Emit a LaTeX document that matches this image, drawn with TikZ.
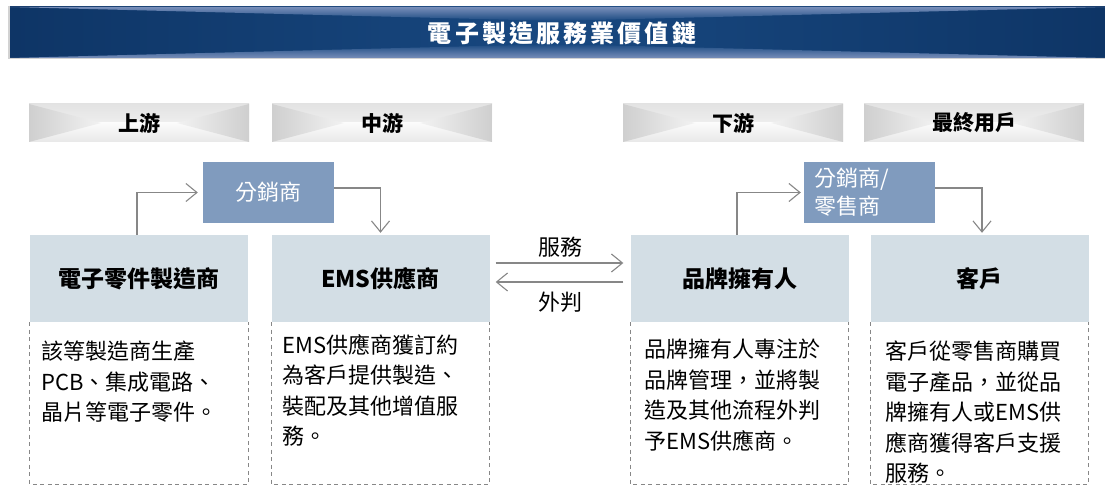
\documentclass[tikz,border=0pt]{standalone}
\usepackage{fontspec}
\setmainfont{Noto Sans CJK TC}
\usetikzlibrary{arrows.meta,positioning}

\definecolor{navy}{RGB}{14,53,102}
\definecolor{navymid}{RGB}{24,72,128}
\definecolor{navylight}{RGB}{120,142,185}
\definecolor{boxblue}{RGB}{128,155,190}
\definecolor{headblue}{RGB}{211,222,229}
\definecolor{linegray}{RGB}{135,135,135}

\begin{document}
\begin{tikzpicture}[
    x			= 1pt,
    y			= -1pt,
    >={Straight Barb[length=11pt, width=18pt]},
    arr/.style		= {->, draw=linegray, line width=1.1pt},
    dashline/.style	= {draw=linegray, line width=1.3pt, dash pattern=on 4pt off 3.5pt},
    colhead/.style	= {minimum width=220pt, minimum height=38pt, inner sep=0pt,
      font=\bfseries\fontsize{21}{21}\selectfont,
      path picture={
        \shade[top color=gray!22, bottom color=gray!5] (path picture bounding box.north west) rectangle (path picture bounding box.east);
        \shade[top color=gray!3, bottom color=gray!18] (path picture bounding box.west) rectangle (path picture bounding box.south east);
        \shade[left color=gray!38, right color=gray!10] (path picture bounding box.north west) -- ([xshift=72pt]path picture bounding box.west) -- (path picture bounding box.south west) -- cycle;
        \shade[right color=gray!38, left color=gray!10] (path picture bounding box.north east) -- ([xshift=-72pt]path picture bounding box.east) -- (path picture bounding box.south east) -- cycle;
      }},
    firmbox/.style	= {fill=headblue, minimum width=218pt, minimum height=87pt, inner sep=0pt,
      font=\bfseries\fontsize{23}{23}\selectfont},
    infotext/.style	= {anchor=north west, align=left, inner sep=0pt, font=\fontsize{22}{30.5}\selectfont},
    distbox/.style	= {fill=boxblue, text=white, minimum width=131pt, minimum height=61pt, inner sep=0pt,
      font=\fontsize{22}{28}\selectfont}
  ]
\useasboundingbox (0,0) rectangle (1105,486);
% title bar
\fill[gray!35] (8,6) rectangle (1105,59);
\shade[left color=navy, right color=navy, middle color=navymid] (10,7) rectangle (1105,58);
\shade[top color=navylight, bottom color=navymid] (10,7) -- (1105,7) -- (557,21) -- cycle;
\shade[bottom color=navylight, top color=navymid] (10,58) -- (1105,58) -- (557,44) -- cycle;
\node[text=white, font=\bfseries\fontsize{24}{24}\selectfont\addfontfeature{LetterSpace=13}] (title) at (562,33) {電子製造服務業價值鏈};
% column heads
\node[colhead] (up)   at (139,123) {上游};
\node[colhead] (mid)  at (382,123) {中游};
\node[colhead] (down) at (733,123) {下游};
\node[colhead] (end)  at (974,123) {最終用戶};
% firms
\node[firmbox] (ecm)    at (139,278.5)   {電子零件製造商};
\node[firmbox] (ems)    at (380.5,278.5) {EMS供應商};
\node[firmbox] (brand)  at (739.5,278.5) {品牌擁有人};
\node[firmbox] (client) at (979.5,278.5) {客戶};
% dashed boxes
\draw[dashline] (ecm.south west) -- ++(0,162) -| (ecm.south east);
\draw[dashline] (ems.south west) -- ++(0,162) -| (ems.south east);
\draw[dashline] (brand.south west) -- ++(0,162) -| (brand.south east);
\draw[dashline] (client.south west) -- ++(0,162) -| (client.south east);
% descriptions
\node[infotext] (ecmtext)    at (41,341)  {該等製造商生產\\PCB、集成電路、\\晶片等電子零件。};
\node[infotext] (emstext)    at (282,334) {EMS供應商獲訂約\\為客戶提供製造、\\裝配及其他增值服\\務。};
\node[infotext] (brandtext)  at (644,339) {品牌擁有人專注於\\品牌管理，並將製\\造及其他流程外判\\予EMS供應商。};
\node[infotext] (clienttext) at (885,341) {客戶從零售商購買\\電子產品，並從品\\牌擁有人或EMS供\\應商獲得客戶支援\\服務。};
% distributors
\node[distbox] (dist1) at (268.5,192.5) {分銷商};
\node[distbox, align=left, text width=111pt] (dist2) at (869.5,192.5) {分銷商/\\零售商};
% connectors
\draw[arr, shorten >=5pt] ([xshift=-2pt]ecm.north) |- (dist1.west);
\draw[arr, shorten >=2pt] ([yshift=4.5pt]dist1.east) -| (ems.north);
\draw[arr, shorten >=3pt] ([xshift=-2.5pt]brand.north) |- (dist2.west);
\draw[arr, shorten >=2pt] ([yshift=4.5pt]dist2.east) -| ([xshift=2.5pt]client.north);
% service / outsourcing
\draw[arr, shorten <=6pt, shorten >=7pt] ([yshift=15.5pt]ems.east) -- node[above=5pt, inner sep=0pt, font=\fontsize{22}{22}\selectfont] (svc) {服務} ([yshift=15.5pt]brand.west);
\draw[arr, shorten <=7pt, shorten >=6pt] ([yshift=-3.5pt]brand.west) -- node[below=9pt, inner sep=0pt, font=\fontsize{22}{22}\selectfont] (outs) {外判} ([yshift=-3.5pt]ems.east);
%
\end{tikzpicture}
\end{document}
